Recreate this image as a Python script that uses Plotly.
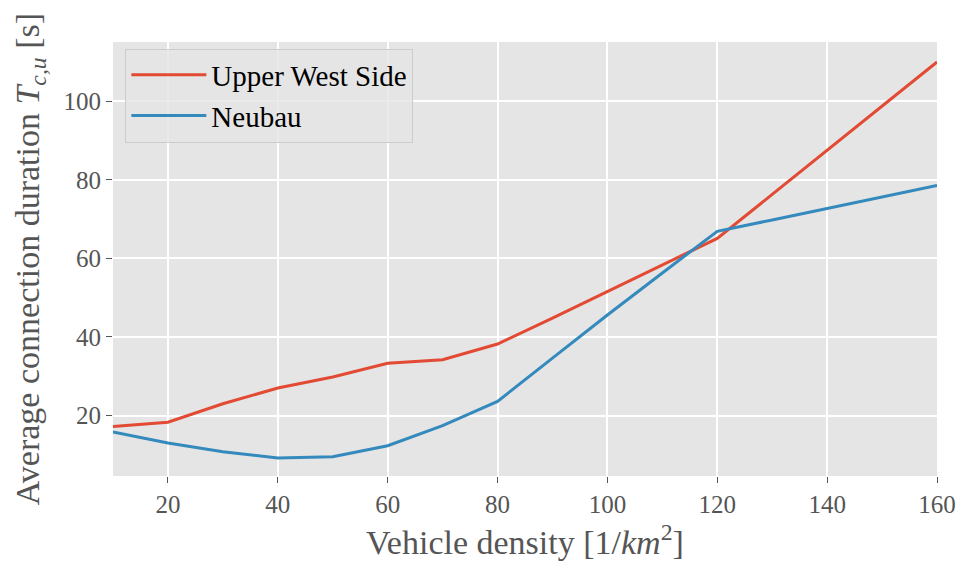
import plotly.graph_objects as go

density = [10, 20, 30, 40, 50, 60, 70, 80, 90, 100, 110, 120, 130, 140, 150, 160]
upper_west_side = [17.2, 18.3, 23.0, 27.0, 29.8, 33.3, 34.2, 38.2, 44.8, 51.5, 58.2, 65.1, 76.3, 87.6, 98.8, 110.0]
neubau = [15.8, 13.0, 10.8, 9.2, 9.5, 12.3, 17.4, 23.6, 34.6, 45.6, 56.3, 66.9, 69.8, 72.7, 75.6, 78.6]

x_ticks = [20, 40, 60, 80, 100, 120, 140, 160]
y_ticks = [20, 40, 60, 80, 100]

font_family = "Liberation Serif"

fig = go.Figure()
fig.add_trace(go.Scatter(x=density, y=upper_west_side, mode="lines", name="Upper West Side",
                         line=dict(color="#E24A33", width=3)))
fig.add_trace(go.Scatter(x=density, y=neubau, mode="lines", name="Neubau",
                         line=dict(color="#348ABD", width=3)))

axis_common = dict(
    showgrid=True, gridcolor="white", gridwidth=1.6,
    zeroline=False, showline=False, automargin=False,
    ticks="outside", ticklen=6, tickwidth=1.3, tickcolor="#555555",
    tickfont=dict(family=font_family, size=25, color="#555555"),
)

fig.update_layout(
    width=962, height=569,
    margin=dict(l=113, r=25, t=42, b=93),
    paper_bgcolor="white",
    plot_bgcolor="#E5E5E5",
    font=dict(family=font_family),
    xaxis=dict(range=[10, 160], tickvals=x_ticks,
               title=dict(text="Vehicle density [1/<i>km</i><sup>2</sup>]",
                          font=dict(family=font_family, size=34, color="#555555"), standoff=13),
               **axis_common),
    yaxis=dict(range=[4.6, 115.1], tickvals=y_ticks,
               title=dict(text="Average connection duration <i>T</i><sub><i>c,u</i></sub> [s]",
                          font=dict(family=font_family, size=34, color="#555555"), standoff=13),
               **axis_common),
    legend=dict(x=0.015, y=0.985, xanchor="left", yanchor="top",
                bgcolor="rgba(229,229,229,0.8)", bordercolor="#CCCCCC", borderwidth=1,
                font=dict(family=font_family, size=29, color="black"),
                itemwidth=75, tracegroupgap=0),
    showlegend=True,
)

fig.write_html("out.html")
